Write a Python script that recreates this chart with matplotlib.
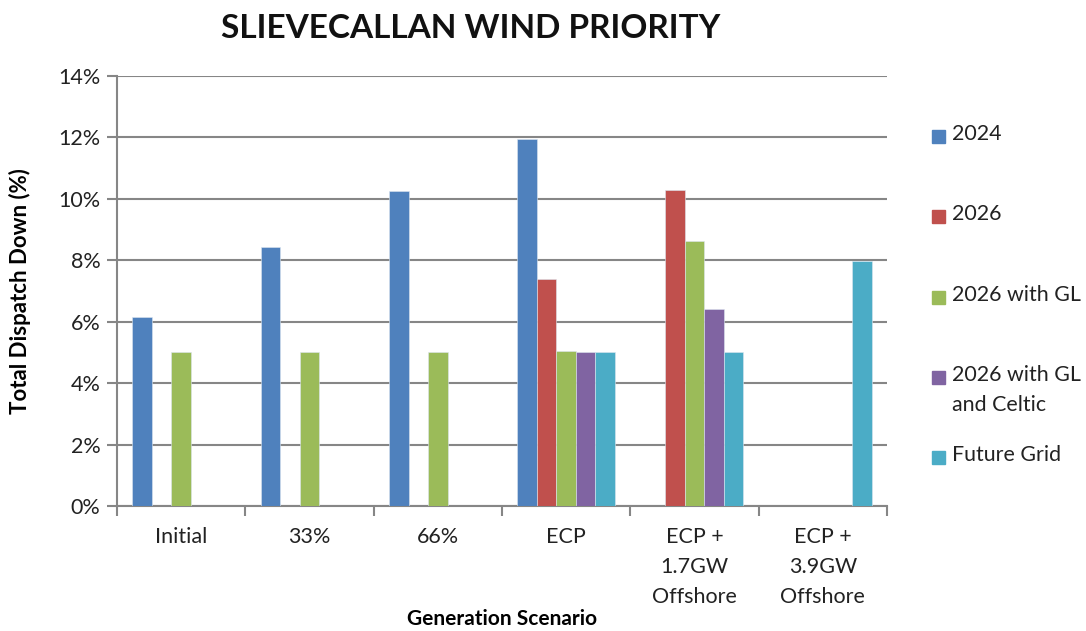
import numpy as np
import matplotlib.pyplot as plt
from matplotlib.patches import Rectangle
from matplotlib.ticker import FuncFormatter, FixedLocator

plt.rcParams['font.family'] = ['Lato', 'DejaVu Sans']

# data
categories = ['Initial', '33%', '66%', 'ECP', 'ECP +\n1.7GW\nOffshore', 'ECP +\n3.9GW\nOffshore']
series = ['2024', '2026', '2026 with GL', '2026 with GL\nand Celtic', 'Future Grid']
v_2024 = [6.15, 8.43, 10.27, 11.95, np.nan, np.nan]
v_2026 = [np.nan, np.nan, np.nan, 7.38, 10.28, np.nan]
v_2026_gl = [5.0, 5.0, 5.0, 5.05, 8.62, np.nan]
v_2026_gl_celtic = [np.nan, np.nan, np.nan, 5.0, 6.43, np.nan]
v_future = [np.nan, np.nan, np.nan, 5.0, 5.0, 7.97]
colors = ['#4F81BD', '#C0504D', '#9BBB59', '#8064A2', '#4BACC6']

values = [v_2024, v_2026, v_2026_gl, v_2026_gl_celtic, v_future]

fig = plt.figure(figsize=(10.86, 6.31), dpi=100)
ax = fig.add_axes([0.1077, 0.198, 0.709, 0.6816])

x = np.arange(len(categories))
w = 0.152
for j, (vals, c) in enumerate(zip(values, colors)):
    vals = np.array(vals) / 100
    ax.bar(x + (j - 2) * w, vals, width=w, color=c, zorder=3,
           edgecolor='#dde6f0', linewidth=0.4)

ax.set_xlim(-0.5, len(categories) - 0.5)
ax.set_ylim(0, 0.14)
ax.set_yticks(np.arange(0, 0.141, 0.02))
ax.yaxis.set_major_formatter(FuncFormatter(lambda v, p: f'{v * 100:.0f}%'))
ax.grid(axis='y', color='#868686', linewidth=1.5, zorder=0)

ax.set_xticks(x)
ax.set_xticklabels(categories, fontsize=15.5, color='#222222', linespacing=1.62)
ax.xaxis.set_minor_locator(FixedLocator(np.arange(-0.5, len(categories), 1)))
ax.tick_params(axis='x', which='major', length=0, pad=15)
ax.tick_params(axis='x', which='minor', length=7, width=1.5, color='#868686')
ax.tick_params(axis='y', length=7, width=1.5, color='#868686', labelsize=15.5,
               labelcolor='#222222', pad=5)

for s in ['top', 'right']:
    ax.spines[s].set_visible(False)
for s in ['left', 'bottom']:
    ax.spines[s].set_color('#868686')
    ax.spines[s].set_linewidth(1.5)

ax.set_ylabel('Total Dispatch Down (%)', fontsize=16, fontweight='bold', va='center')
ax.yaxis.set_label_coords(-0.126, 0.5)
ax.set_xlabel('Generation Scenario', fontsize=15, fontweight='bold', va='center')
ax.xaxis.set_label_coords(0.5, -0.263)

fig.text(0.433, 0.955, 'SLIEVECALLAN WIND PRIORITY', fontsize=24, fontweight='bold',
         ha='center', va='center', color='#111111')

# legend drawn by hand
legend_y = [136, 216, 297, 377, 457]
for name, c, yy in zip(series, colors, legend_y):
    yf = 1 - yy / 631
    fig.add_artist(Rectangle((932 / 1086, yf - 6.5 / 631), 13 / 1086, 13 / 631,
                             transform=fig.transFigure, color=c))
    fig.text(952 / 1086, yf + 12 / 631, name, fontsize=15.4, va='top', ha='left',
             color='#222222', linespacing=1.62)

fig.savefig('out.png', dpi=100)
